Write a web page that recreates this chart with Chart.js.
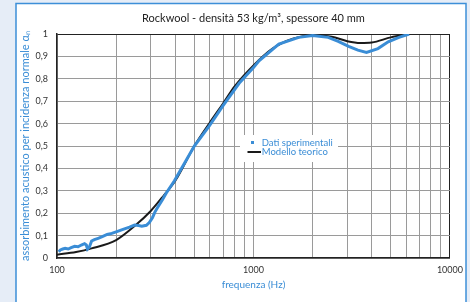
<!DOCTYPE html>
<html><head><meta charset="utf-8">
<script src="https://cdn.jsdelivr.net/npm/chart.js@4"></script>
<style>html,body{margin:0;padding:0;background:#e6edf7;overflow:hidden}canvas{display:block}</style>
</head><body>
<canvas id="c" width="470" height="302"></canvas>
<script>
const titleText = 'Rockwool - densità 53 kg/m³, spessore 40 mm';
const xTitle = 'frequenza (Hz)';
const yTitle = 'assorbimento acustico per incidenza normale αₙ';
const seriesNames = ['Dati sperimentali', 'Modello teorico'];
const xGridValues = [100,200,300,400,500,600,700,800,900,1000,2000,3000,4000,5000,6000,7000,8000,9000,10000];
const xTickLabels = {100:'100', 1000:'1000', 10000:'10000'};
const yTickValues = [0,0.1,0.2,0.3,0.4,0.5,0.6,0.7,0.8,0.9,1];
const yTickLabels = ['0','0,1','0,2','0,3','0,4','0,5','0,6','0,7','0,8','0,9','1'];

const expFreq = [102,104,107,110,114,118,123,128,133,138,141,143,146,150,155,162,170,180,190,200,215,234,248,260,270,285,295,306,315,325,344,360,396,450,500,596,700,845,1000,1067,1346,1700,2000,2400,2700,3050,3400,3760,4300,4850,5500,6200];
const expValues = [0.028,0.036,0.040,0.043,0.040,0.046,0.052,0.050,0.058,0.064,0.058,0.040,0.048,0.076,0.082,0.088,0.095,0.105,0.110,0.117,0.127,0.138,0.147,0.145,0.142,0.146,0.158,0.180,0.205,0.225,0.260,0.290,0.345,0.430,0.500,0.590,0.680,0.780,0.850,0.880,0.955,0.985,0.993,0.985,0.967,0.945,0.928,0.918,0.935,0.965,0.985,1.0];

const modelFreq = [100,125,150,200,250,300,350,400,500,600,700,800,1000,1250,1600,2000,2500,3000,3500,4000,5000,6200];
const modelValues = [0.015,0.027,0.043,0.080,0.145,0.210,0.280,0.345,0.500,0.605,0.690,0.765,0.860,0.935,0.980,0.993,0.988,0.968,0.960,0.962,0.985,1.0];

const blue = '#3a8dd6';
function marker(w, h, color) {
  const c = document.createElement('canvas'); c.width = w; c.height = h;
  const g = c.getContext('2d'); g.fillStyle = color; g.fillRect(0, 0, w, h); return c;
}
const markers = [marker(3, 3, blue), marker(17, 2, '#1a1a1a')];

const framePlugin = {
  id: 'frame',
  beforeDraw(chart) {
    const c = chart.ctx; c.save();
    c.fillStyle = '#e6edf7'; c.fillRect(0, 0, chart.width, chart.height);
    c.fillStyle = '#ffffff'; c.fillRect(16, 3, 450, 310);
    c.strokeStyle = '#3d8fd8'; c.lineWidth = 1.5; c.strokeRect(16, 3.5, 450, 310);
    c.restore();
  },
  afterLayout(chart) {
    const L = chart.legend; if (!L) return;
    L.left = 247.5; L.right = 340; L.top = 137.75; L.bottom = chart.chartArea.bottom;
  },
  beforeDatasetsDraw(chart) {
    const c = chart.ctx; c.save(); c.fillStyle = '#ffffff';
    c.fillRect(240, 135, 98, 27); c.restore();
    if (chart.legend) chart.legend.draw();
  }
};

new Chart(document.getElementById('c'), {
  type: 'line',
  data: {
    datasets: [
      { label: seriesNames[0], data: expFreq.map((f, i) => ({x: f, y: expValues[i]})),
        borderColor: blue, borderWidth: 3, pointRadius: 0, tension: 0, fill: false },
      { label: seriesNames[1], data: modelFreq.map((f, i) => ({x: f, y: modelValues[i]})),
        borderColor: '#1a1a1a', borderWidth: 2, pointRadius: 0, cubicInterpolationMode: 'monotone', fill: false }
    ]
  },
  options: {
    responsive: false, animation: false, devicePixelRatio: 1,
    layout: { padding: { left: 0, right: 18, top: 0, bottom: 0 } },
    plugins: {
      title: { display: true, text: titleText, fullSize: false, color: '#222', font: { family: 'Lato', size: 11, weight: 'normal' }, padding: { top: 11.4, bottom: 9.4 } },
      legend: {
        position: 'chartArea', align: 'start',
        labels: {
          usePointStyle: true, boxWidth: 16, boxHeight: 8, padding: 0, color: blue,
          font: { family: 'Lato', size: 9.5 },
          generateLabels(chart) {
            return chart.data.datasets.map((ds, i) => ({ text: ds.label, pointStyle: markers[i], datasetIndex: i, lineWidth: 0, hidden: false, fontColor: blue }));
          }
        }
      },
      tooltip: { enabled: false }
    },
    scales: {
      x: {
        type: 'logarithmic', min: 100, max: 10000,
        afterBuildTicks(s) { s.ticks = xGridValues.map(v => ({ value: v })); },
        afterFit(s) { s.height = 44; },
        ticks: { autoSkip: false, maxRotation: 0, padding: 7, color: '#333', font: { family: 'Lato', size: 9 }, callback: v => xTickLabels[v] ?? '' },
        grid: { color: ctx => (ctx.tick && ctx.tick.value === 10000) ? '#222' : '#9a9a9a', lineWidth: 1, drawTicks: false },
        border: { color: '#222', width: 1.5 },
        title: { display: true, text: xTitle, color: blue, font: { family: 'Lato', size: 10 }, padding: { top: 0, bottom: 11.7 } }
      },
      y: {
        min: 0, max: 1,
        afterBuildTicks(s) { s.ticks = yTickValues.map(v => ({ value: v })); },
        afterFit(s) { s.width = 57; },
        ticks: { padding: 9, color: '#333', font: { family: 'Lato', size: 9 }, callback: (v, i) => yTickLabels[i] },
        grid: { color: ctx => (ctx.tick && ctx.tick.value === 1) ? '#222' : '#9a9a9a', lineWidth: 1, drawTicks: false },
        border: { color: '#222', width: 1.5 },
        title: { display: true, text: yTitle, color: blue, font: { family: 'Lato', size: 11 }, padding: { top: 19, bottom: 0 } }
      }
    }
  },
  plugins: [framePlugin]
});
</script>
</body></html>
